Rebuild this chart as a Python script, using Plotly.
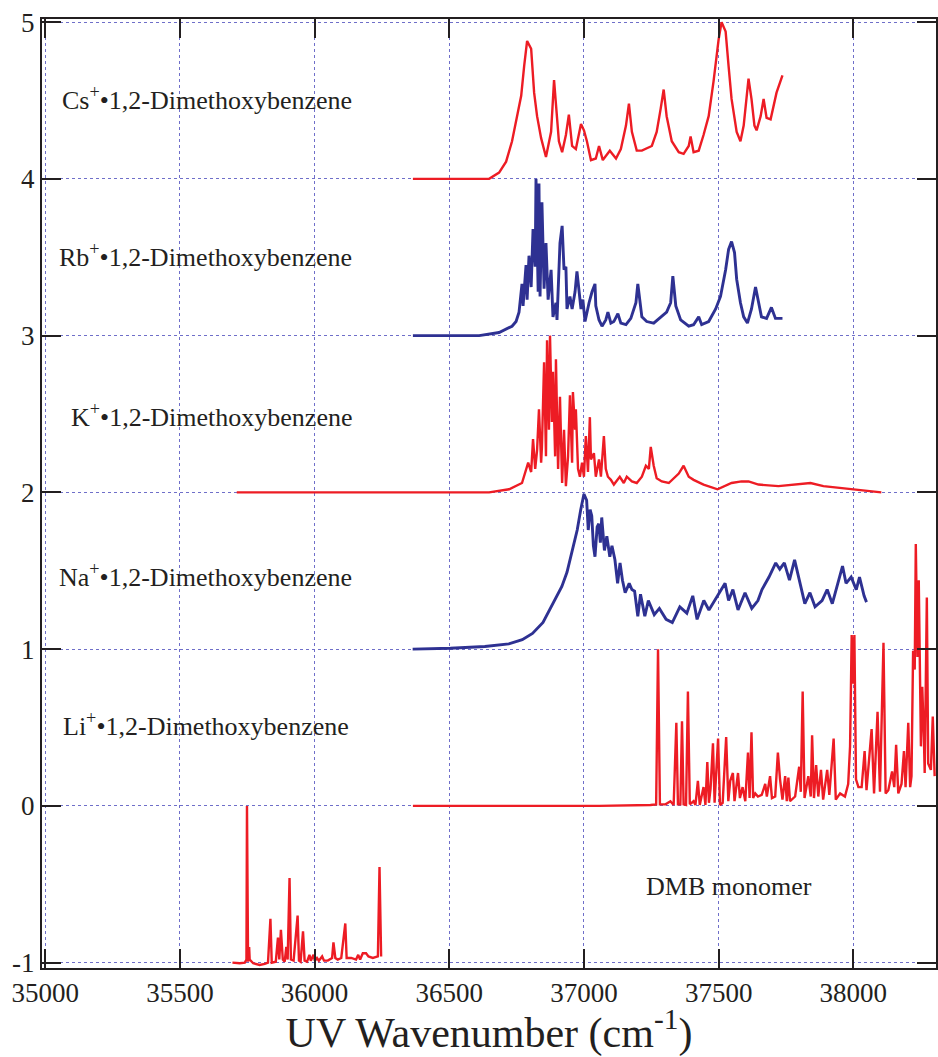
import plotly.graph_objects as go

# ---- spectra: wavenumber (cm-1) and relative ion signal, each stacked on its own baseline ----
cs_wn = [36365, 36648, 36685, 36711, 36733, 36748, 36767, 36778, 36789, 36804, 36815, 36826,
         36841, 36859, 36878, 36889, 36896, 36907, 36919, 36933, 36944, 36956, 36970, 36989,
         37000, 37011, 37026, 37044, 37056, 37070, 37096, 37119, 37137, 37156, 37167, 37178,
         37196, 37215, 37252, 37270, 37285, 37296, 37307, 37326, 37352, 37370, 37389, 37396,
         37407, 37426, 37444, 37463, 37481, 37500, 37511, 37526, 37537, 37548, 37567, 37581,
         37593, 37604, 37611, 37622, 37633, 37641, 37656, 37667, 37678, 37693, 37704, 37715,
         37737]
cs_int = [0.0, 0.0, 0.04, 0.11, 0.24, 0.36, 0.53, 0.72, 0.88, 0.83, 0.55, 0.40,
          0.26, 0.14, 0.30, 0.63, 0.47, 0.24, 0.17, 0.28, 0.41, 0.21, 0.19, 0.35,
          0.31, 0.24, 0.12, 0.13, 0.21, 0.12, 0.18, 0.13, 0.19, 0.34, 0.48, 0.30,
          0.18, 0.18, 0.21, 0.30, 0.45, 0.57, 0.40, 0.24, 0.17, 0.16, 0.21, 0.27,
          0.17, 0.18, 0.28, 0.40, 0.62, 0.89, 1.00, 0.94, 0.72, 0.51, 0.30, 0.24,
          0.34, 0.55, 0.64, 0.51, 0.34, 0.31, 0.40, 0.51, 0.39, 0.38, 0.47, 0.55,
          0.66]

rb_wn = [36365, 36611, 36685, 36733, 36748, 36759, 36770, 36774, 36785, 36789, 36796, 36804,
         36811, 36819, 36822, 36830, 36833, 36837, 36844, 36852, 36859, 36867, 36878, 36885,
         36896, 36900, 36911, 36919, 36926, 36933, 36937, 36948, 36956, 36967, 36974, 36981,
         36989, 36996, 37004, 37019, 37030, 37041, 37044, 37056, 37067, 37081, 37089, 37100,
         37111, 37126, 37137, 37156, 37174, 37193, 37200, 37215, 37233, 37259, 37289, 37307,
         37322, 37330, 37341, 37359, 37389, 37407, 37426, 37437, 37463, 37489, 37507, 37526,
         37537, 37548, 37559, 37567, 37581, 37593, 37607, 37622, 37637, 37648, 37659, 37678,
         37696, 37711, 37737]
rb_int = [0.0, 0.0, 0.02, 0.06, 0.09, 0.15, 0.33, 0.19, 0.45, 0.23, 0.51, 0.31,
          0.68, 0.44, 1.00, 0.28, 0.97, 0.25, 0.85, 0.30, 0.59, 0.23, 0.42, 0.12,
          0.21, 0.10, 0.59, 0.70, 0.42, 0.44, 0.17, 0.25, 0.17, 0.28, 0.41, 0.31,
          0.17, 0.23, 0.09, 0.21, 0.28, 0.33, 0.19, 0.10, 0.06, 0.10, 0.15, 0.08,
          0.09, 0.14, 0.08, 0.07, 0.11, 0.21, 0.33, 0.12, 0.09, 0.08, 0.12, 0.15,
          0.21, 0.38, 0.19, 0.10, 0.06, 0.07, 0.12, 0.07, 0.09, 0.17, 0.25, 0.42,
          0.55, 0.60, 0.53, 0.36, 0.21, 0.12, 0.08, 0.17, 0.31, 0.21, 0.12, 0.11,
          0.18, 0.11, 0.11]

k_wn = [35711, 36648, 36722, 36770, 36793, 36804, 36811, 36819, 36826, 36833, 36841, 36844,
        36852, 36859, 36863, 36870, 36874, 36881, 36885, 36893, 36896, 36904, 36911, 36919,
        36926, 36933, 36941, 36948, 36956, 36959, 36967, 36970, 36978, 36985, 36993, 37000,
        37007, 37015, 37022, 37026, 37037, 37044, 37056, 37063, 37074, 37081, 37089, 37100,
        37111, 37133, 37148, 37159, 37178, 37196, 37215, 37230, 37241, 37248, 37259, 37270,
        37289, 37315, 37352, 37370, 37389, 37407, 37444, 37496, 37548, 37585, 37611, 37648,
        37722, 37778, 37815, 37841, 37889, 37941, 38004, 38056, 38104]
k_int = [0.0, 0.0, 0.02, 0.06, 0.19, 0.13, 0.34, 0.15, 0.27, 0.53, 0.19, 0.29,
         0.83, 0.23, 0.97, 0.40, 1.00, 0.45, 0.77, 0.23, 0.85, 0.15, 0.61, 0.06,
         0.40, 0.04, 0.23, 0.62, 0.19, 0.64, 0.40, 0.53, 0.15, 0.10, 0.19, 0.10,
         0.36, 0.13, 0.48, 0.21, 0.25, 0.10, 0.21, 0.10, 0.36, 0.15, 0.10, 0.08,
         0.05, 0.10, 0.06, 0.10, 0.07, 0.06, 0.10, 0.17, 0.15, 0.29, 0.17, 0.09,
         0.07, 0.06, 0.12, 0.17, 0.10, 0.08, 0.05, 0.02, 0.06, 0.07, 0.07, 0.05,
         0.04, 0.05, 0.06, 0.06, 0.04, 0.03, 0.02, 0.01, 0.0]

na_wn = [36364, 36504, 36632, 36721, 36771, 36809, 36848, 36873, 36898, 36918, 36937, 36949,
         36962, 36975, 36988, 37000, 37010, 37016, 37023, 37029, 37035, 37041, 37049, 37055,
         37061, 37066, 37076, 37085, 37096, 37104, 37115, 37125, 37134, 37143, 37153, 37168,
         37178, 37188, 37200, 37210, 37226, 37239, 37261, 37280, 37305, 37328, 37356, 37382,
         37404, 37420, 37445, 37464, 37496, 37524, 37537, 37553, 37572, 37598, 37623, 37646,
         37661, 37687, 37712, 37727, 37744, 37763, 37782, 37801, 37820, 37839, 37858, 37884,
         37903, 37922, 37947, 37960, 37973, 37992, 38011, 38023, 38040, 38049]
na_int = [0.0, 0.006, 0.017, 0.034, 0.06, 0.10, 0.17, 0.25, 0.34, 0.40, 0.49, 0.57,
          0.66, 0.76, 0.89, 0.99, 0.95, 0.76, 0.89, 0.85, 0.66, 0.59, 0.78, 0.80,
          0.68, 0.84, 0.63, 0.72, 0.59, 0.66, 0.57, 0.42, 0.55, 0.44, 0.36, 0.42,
          0.38, 0.37, 0.21, 0.35, 0.21, 0.31, 0.22, 0.26, 0.19, 0.17, 0.27, 0.23,
          0.34, 0.19, 0.31, 0.25, 0.34, 0.42, 0.31, 0.38, 0.25, 0.36, 0.26, 0.31,
          0.38, 0.46, 0.55, 0.51, 0.55, 0.44, 0.57, 0.42, 0.29, 0.36, 0.27, 0.31,
          0.38, 0.29, 0.46, 0.53, 0.42, 0.46, 0.38, 0.46, 0.34, 0.30]

li_wn = [36365, 37056, 37247, 37268, 37275, 37282, 37303, 37321, 37333, 37343, 37349, 37358,
         37364, 37370, 37379, 37386, 37393, 37407, 37414, 37423, 37430, 37444, 37451, 37458,
         37464, 37470, 37479, 37485, 37498, 37505, 37515, 37528, 37536, 37543, 37553, 37559,
         37572, 37579, 37589, 37599, 37609, 37615, 37622, 37628, 37636, 37646, 37660, 37673,
         37679, 37691, 37698, 37710, 37720, 37728, 37737, 37747, 37753, 37759, 37765, 37784,
         37799, 37805, 37812, 37819, 37833, 37842, 37847, 37854, 37862, 37870, 37880, 37888,
         37903, 37911, 37927, 37935, 37951, 37969, 37981, 37988, 37994, 37999, 38004, 38010,
         38019, 38031, 38042, 38049, 38068, 38077, 38090, 38099, 38112, 38120, 38130, 38144,
         38152, 38159, 38167, 38179, 38188, 38194, 38204, 38211, 38216, 38222, 38228, 38232,
         38238, 38243, 38251, 38256, 38262, 38265, 38273, 38278, 38288, 38295, 38302]
li_int = [0.0, 0.0, 0.006, 0.01, 1.00, 0.01, 0.01, 0.03, 0.006, 0.53, 0.01, 0.01,
          0.54, 0.01, 0.006, 0.73, 0.01, 0.03, 0.006, 0.16, 0.006, 0.12, 0.006, 0.28,
          0.02, 0.11, 0.40, 0.02, 0.43, 0.006, 0.02, 0.44, 0.03, 0.16, 0.21, 0.03,
          0.21, 0.05, 0.12, 0.03, 0.34, 0.05, 0.47, 0.05, 0.08, 0.06, 0.07, 0.14,
          0.06, 0.19, 0.05, 0.06, 0.34, 0.17, 0.04, 0.19, 0.03, 0.18, 0.03, 0.06,
          0.25, 0.09, 0.73, 0.05, 0.19, 0.06, 0.45, 0.05, 0.26, 0.06, 0.23, 0.04,
          0.23, 0.07, 0.43, 0.04, 0.08, 0.06, 0.14, 0.38, 1.09, 0.78, 1.09, 0.17,
          0.12, 0.12, 0.35, 0.10, 0.49, 0.08, 0.60, 0.09, 1.04, 0.08, 0.10, 0.22,
          0.12, 0.39, 0.08, 0.14, 0.35, 0.12, 0.53, 0.12, 0.19, 0.99, 0.87, 1.67,
          0.95, 1.44, 0.38, 0.76, 0.44, 0.21, 1.33, 0.27, 0.23, 0.57, 0.19]

dmb_wn = [35695, 35722, 35741, 35747, 35749, 35753, 35757, 35759, 35772, 35796, 35815, 35827,
          35836, 35841, 35856, 35864, 35869, 35875, 35882, 35889, 35895, 35900, 35907, 35912,
          35922, 35937, 35942, 35948, 35957, 35963, 35972, 35981, 35986, 35996, 36001, 36009,
          36016, 36028, 36035, 36049, 36065, 36070, 36077, 36086, 36099, 36114, 36119, 36136,
          36154, 36162, 36169, 36179, 36191, 36200, 36216, 36235, 36241, 36247]
dmb_int = [0.0, -0.004, 0.0, 0.02, 1.00, 0.006, 0.10, 0.02, -0.004, -0.015, -0.008, 0.0,
           0.28, 0.0, 0.006, 0.16, 0.02, 0.21, 0.02, 0.006, 0.10, 0.02, 0.54, 0.02,
           0.013, 0.30, 0.013, 0.006, 0.20, 0.013, 0.006, 0.05, 0.013, 0.05, 0.013, 0.03,
           0.013, 0.04, 0.013, 0.013, 0.03, 0.13, 0.03, 0.02, 0.03, 0.25, 0.03, 0.03,
           0.02, 0.05, 0.02, 0.06, 0.06, 0.04, 0.03, 0.04, 0.61, 0.04]

series_names = ["Cs", "Rb", "K", "Na", "Li", "DMB"]
baselines = [4, 3, 2, 1, 0, -1]
labels = ["Cs<sup>+</sup>•1,2-Dimethoxybenzene",
          "Rb<sup>+</sup>•1,2-Dimethoxybenzene",
          "K<sup>+</sup>•1,2-Dimethoxybenzene",
          "Na<sup>+</sup>•1,2-Dimethoxybenzene",
          "Li<sup>+</sup>•1,2-Dimethoxybenzene",
          "DMB monomer"]

x_ticks = [35000, 35500, 36000, 36500, 37000, 37500, 38000]
y_ticks = [-1, 0, 1, 2, 3, 4, 5]

RED = "#ed1c24"
BLUE = "#2e3192"
AXIS = "#231f20"
GRID = "#6f6fc9"
FONT = "Liberation Serif"

spectra = [(cs_wn, cs_int, RED, 2.4), (rb_wn, rb_int, BLUE, 2.9), (k_wn, k_int, RED, 2.4),
           (na_wn, na_int, BLUE, 2.9), (li_wn, li_int, RED, 2.4), (dmb_wn, dmb_int, RED, 2.4)]

fig = go.Figure()
for name, base, (wn, inten, color, lw) in zip(series_names, baselines, spectra):
    fig.add_trace(go.Scatter(
        x=wn, y=[base + v for v in inten], mode="lines", name=name,
        line=dict(color=color, width=lw), showlegend=False, hoverinfo="skip"))

# labels, right-aligned next to each stacked spectrum
label_pos = [(36148, 4.51), (36148, 3.51), (36148, 2.49), (36148, 1.47), (36135, 0.52),
             (37537, -0.515)]
for text, (lx, ly), in zip(labels, label_pos):
    is_mono = text.startswith("DMB")
    fig.add_annotation(x=lx, y=ly, xref="x", yref="y", text=text, showarrow=False,
                       xanchor="center" if is_mono else "right", yanchor="middle",
                       font=dict(family=FONT, size=26, color="#231f20"))

axis_common = dict(
    showline=True, linecolor=AXIS, linewidth=2, mirror="allticks",
    ticks="inside", ticklen=19, tickwidth=2, tickcolor=AXIS,
    showgrid=True, gridcolor=GRID, gridwidth=1, griddash="dot",
    zeroline=False, tickfont=dict(family=FONT, size=27, color="#231f20"),
)

fig.update_xaxes(range=[34988, 38307], tickvals=x_ticks, ticktext=[str(v) for v in x_ticks],
                 title=dict(text="UV Wavenumber (cm<sup>-1</sup>)",
                            font=dict(family=FONT, size=42, color="#231f20"), standoff=8),
                 **axis_common)
fig.update_yaxes(range=[-1.034, 5.02], tickvals=y_ticks, ticktext=[str(v) for v in y_ticks],
                 **axis_common)

fig.update_layout(
    width=938, height=1057,
    margin=dict(l=42, r=0, t=19, b=89),
    paper_bgcolor="white", plot_bgcolor="white",
)

fig.write_html("out.html")
